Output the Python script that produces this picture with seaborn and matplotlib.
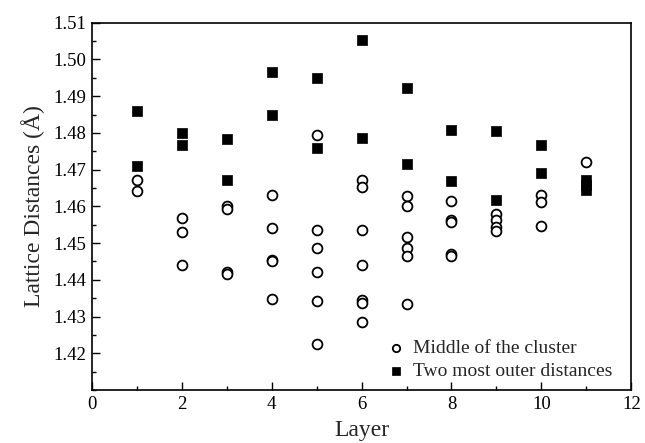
import matplotlib
matplotlib.use("Agg")
import matplotlib.pyplot as plt
from matplotlib.ticker import MultipleLocator, FormatStrFormatter
import seaborn as sns
import pandas as pd

# Lattice distances per layer
middle_layer = [1, 1,
                2, 2, 2,
                3, 3, 3, 3,
                4, 4, 4, 4, 4,
                5, 5, 5, 5, 5, 5,
                6, 6, 6, 6, 6, 6, 6,
                7, 7, 7, 7, 7, 7,
                8, 8, 8, 8, 8,
                9, 9, 9, 9,
                10, 10, 10,
                11]
middle_dist = [1.4671, 1.4643,
               1.4567, 1.4531, 1.4439,
               1.4601, 1.4592, 1.4421, 1.4416,
               1.4631, 1.4540, 1.4454, 1.4450, 1.4348,
               1.4794, 1.4536, 1.4486, 1.4420, 1.4341, 1.4225,
               1.4671, 1.4652, 1.4536, 1.4441, 1.4345, 1.4336, 1.4285,
               1.4627, 1.4600, 1.4517, 1.4486, 1.4465, 1.4334,
               1.4614, 1.4563, 1.4557, 1.4470, 1.4466,
               1.4580, 1.4563, 1.4545, 1.4534,
               1.4631, 1.4613, 1.4547,
               1.4720]

outer_layer = [1, 1, 2, 2, 3, 3, 4, 4, 5, 5, 6, 6, 7, 7, 8, 8, 9, 9, 10, 10, 11, 11, 11]
outer_dist = [1.4859, 1.4709, 1.4800, 1.4767, 1.4782, 1.4672,
              1.4965, 1.4850, 1.4950, 1.4759, 1.5052, 1.4786,
              1.4923, 1.4716, 1.4809, 1.4669, 1.4805, 1.4617,
              1.4767, 1.4691, 1.4671, 1.4658, 1.4645]

y_ticks = [1.42, 1.43, 1.44, 1.45, 1.46, 1.47, 1.48, 1.49, 1.50, 1.51]

df_mid = pd.DataFrame({"Layer": middle_layer, "Distance": middle_dist})
df_out = pd.DataFrame({"Layer": outer_layer, "Distance": outer_dist})

sns.set_theme(style="ticks")
plt.rcParams["font.family"] = ["Liberation Serif", "DejaVu Serif"]

fig = plt.figure(figsize=(6.45, 4.43), dpi=100)
ax = fig.add_axes([0.142, 0.1196, 0.837, 0.8292])

sns.scatterplot(data=df_mid, x="Layer", y="Distance", ax=ax, marker="o",
                s=50, facecolor="white", edgecolor="black", linewidth=1.3,
                label="Middle of the cluster", zorder=3)
sns.scatterplot(data=df_out, x="Layer", y="Distance", ax=ax, marker="s",
                s=48, color="black", edgecolor="black", linewidth=0.5,
                label="Two most outer distances", zorder=3)

ax.set_xlim(0, 12)
ax.set_ylim(1.41, 1.51)
ax.xaxis.set_major_locator(MultipleLocator(2))
ax.xaxis.set_minor_locator(MultipleLocator(1))
ax.set_yticks(y_ticks)
ax.yaxis.set_minor_locator(MultipleLocator(0.005))
ax.yaxis.set_major_formatter(FormatStrFormatter("%.2f"))
ax.tick_params(which="both", direction="in", top=False, right=False,
               labelsize=13.5, colors="black", pad=4)
ax.tick_params(which="major", length=6, width=1)
ax.tick_params(which="minor", length=3, width=1)
for sp in ax.spines.values():
    sp.set_linewidth(1.2)
    sp.set_color("black")

ax.set_xlabel("Layer", fontsize=17, labelpad=5)
ax.set_ylabel("Lattice Distances (Å)", fontsize=17, labelpad=6)

leg = ax.legend(loc="lower left", frameon=False, fontsize=14,
                handletextpad=0.4, borderpad=0, labelspacing=0.27,
                markerscale=0.75, handlelength=1.0,
                bbox_to_anchor=(0.527, 0.0))

fig.savefig("out.png", dpi=100)
